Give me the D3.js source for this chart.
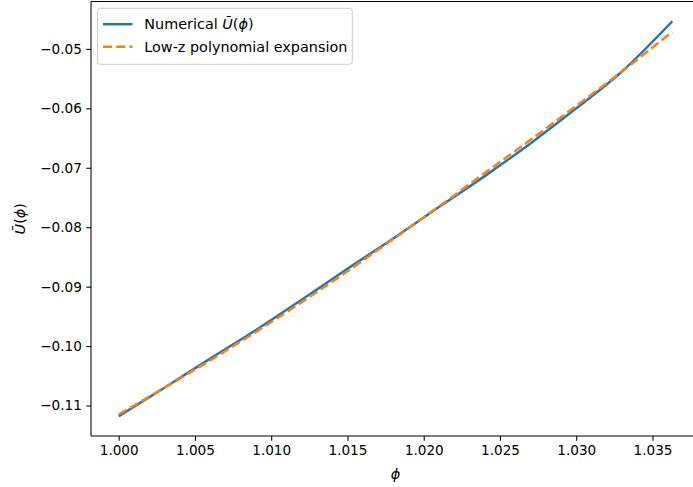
<!doctype html>
<html>
<head>
<meta charset="utf-8">
<style>
  body { margin: 0; background: #fff; }
  svg { display: block; }
  text { font-family: "DejaVu Sans", sans-serif; font-size: 13.6px; fill: #000; }
  .axis path, .axis line { stroke: #000; stroke-width: 1.07; }
  .math { font-style: italic; }
  .big { font-size: 14.4px; }
</style>
<title>U bar of phi</title>
</head>
<body>
<svg class="chart"></svg>
<script src="https://cdnjs.cloudflare.com/ajax/libs/d3/7.8.5/d3.min.js"></script>
<script>

// values
var phi       = [1.000, 1.003, 1.006, 1.009, 1.012, 1.015, 1.018, 1.021, 1.024, 1.027, 1.030, 1.033, 1.0363];
var numerical = [-0.1118, -0.1070, -0.1021, -0.0973, -0.0922, -0.0870, -0.0819, -0.0766, -0.0714, -0.0659, -0.0600, -0.0538, -0.04535];
var lowZ      = [-0.1115, -0.1070, -0.1024, -0.0976, -0.0926, -0.0874, -0.0820, -0.0765, -0.0709, -0.0653, -0.0596, -0.0538, -0.0471];

var xTicks = [1.000, 1.005, 1.010, 1.015, 1.020, 1.025, 1.030, 1.035];
var yTicks = [-0.11, -0.10, -0.09, -0.08, -0.07, -0.06, -0.05];

var width = 693, height = 487,
    margin = { top: 1.5, left: 91, right: 700, bottom: 436 };

var svg = d3.select(".chart")
  .attr("width", width)
  .attr("height", height);

// matplotlib style 5% margins around the data
function padded(ext) {
  var d = (ext[1] - ext[0]) * 0.05;
  return [ext[0] - d, ext[1] + d];
}

var xScale = d3.scaleLinear()
  .domain(padded(d3.extent(phi)))
  .range([margin.left, margin.right]);

var yScale = d3.scaleLinear()
  .domain(padded(d3.extent(numerical.concat(lowZ))))
  .range([margin.bottom, margin.top]);

var minus = function(v, f) { return d3.format(f)(v).replace("-", "\u2212"); };

svg.append("g")
  .attr("class", "axis")
  .attr("transform", "translate(0," + margin.bottom + ")")
  .call(d3.axisBottom(xScale).tickValues(xTicks).tickSize(4.7).tickPadding(4.5)
    .tickFormat(function(d) { return d3.format(".3f")(d); }))
  .call(function(g) { g.select(".domain").attr("d", "M" + margin.left + ",0H" + margin.right); })
  .selectAll("text").attr("font-family", "DejaVu Sans");

svg.append("g")
  .attr("class", "axis")
  .attr("transform", "translate(" + margin.left + ",0)")
  .call(d3.axisLeft(yScale).tickValues(yTicks).tickSize(4.7).tickPadding(4.5)
    .tickFormat(function(d) { return minus(d, ".2f"); }))
  .call(function(g) { g.select(".domain").attr("d", "M0," + margin.top + "V" + margin.bottom); })
  .selectAll("text").attr("font-family", "DejaVu Sans");

// top spine
svg.append("line")
  .attr("x1", margin.left).attr("x2", margin.right)
  .attr("y1", margin.top).attr("y2", margin.top)
  .attr("stroke", "#000").attr("stroke-width", 1.07);

var line = d3.line()
  .x(function(d) { return xScale(d[0]); })
  .y(function(d) { return yScale(d[1]); })
  .curve(d3.curveMonotoneX);

svg.append("path")
  .datum(d3.zip(phi, numerical))
  .attr("d", line)
  .attr("fill", "none")
  .attr("stroke", "#1f77b4")
  .attr("stroke-width", 2.5);

svg.append("path")
  .datum(d3.zip(phi, lowZ))
  .attr("d", line)
  .attr("fill", "none")
  .attr("stroke", "#ff7f0e")
  .attr("stroke-width", 2.5)
  .attr("stroke-dasharray", "9.2,4");

// axis labels
svg.append("text")
  .attr("class", "math big")
  .attr("x", (margin.left + margin.right) / 2)
  .attr("y", 479)
  .attr("text-anchor", "middle")
  .text("\u03d5");

var yl = svg.append("text")
  .attr("class", "big")
  .attr("transform", "translate(25," + (margin.top + margin.bottom) / 2 + ") rotate(-90)")
  .attr("text-anchor", "middle");
yl.append("tspan").attr("class", "math").text("U\u0304");
yl.append("tspan").text("(");
yl.append("tspan").attr("class", "math").text("\u03d5");
yl.append("tspan").text(")");

// legend
var legend = svg.append("g").attr("transform", "translate(97.5,8.3)");
legend.append("rect")
  .attr("width", 254.8).attr("height", 56)
  .attr("rx", 3).attr("ry", 3)
  .attr("fill", "#fff").attr("fill-opacity", 0.8)
  .attr("stroke", "#cccccc").attr("stroke-width", 1);

var entries = [
  { color: "#1f77b4", dash: null, y: 15.9 },
  { color: "#ff7f0e", dash: "9.2,4", y: 38.5 }
];
entries.forEach(function(e, i) {
  legend.append("line")
    .attr("x1", 5.5).attr("x2", 35)
    .attr("y1", e.y).attr("y2", e.y)
    .attr("stroke", e.color).attr("stroke-width", 2.5)
    .attr("stroke-dasharray", e.dash);
  var t = legend.append("text")
    .attr("class", "big")
    .attr("x", 46.8).attr("y", e.y + 5.3);
  if (i === 0) {
    t.append("tspan").text("Numerical ");
    t.append("tspan").attr("class", "math").text("U\u0304");
    t.append("tspan").text("(");
    t.append("tspan").attr("class", "math").text("\u03d5");
    t.append("tspan").text(")");
  } else {
    t.text("Low-z polynomial expansion");
  }
});

</script>
</body>
</html>
